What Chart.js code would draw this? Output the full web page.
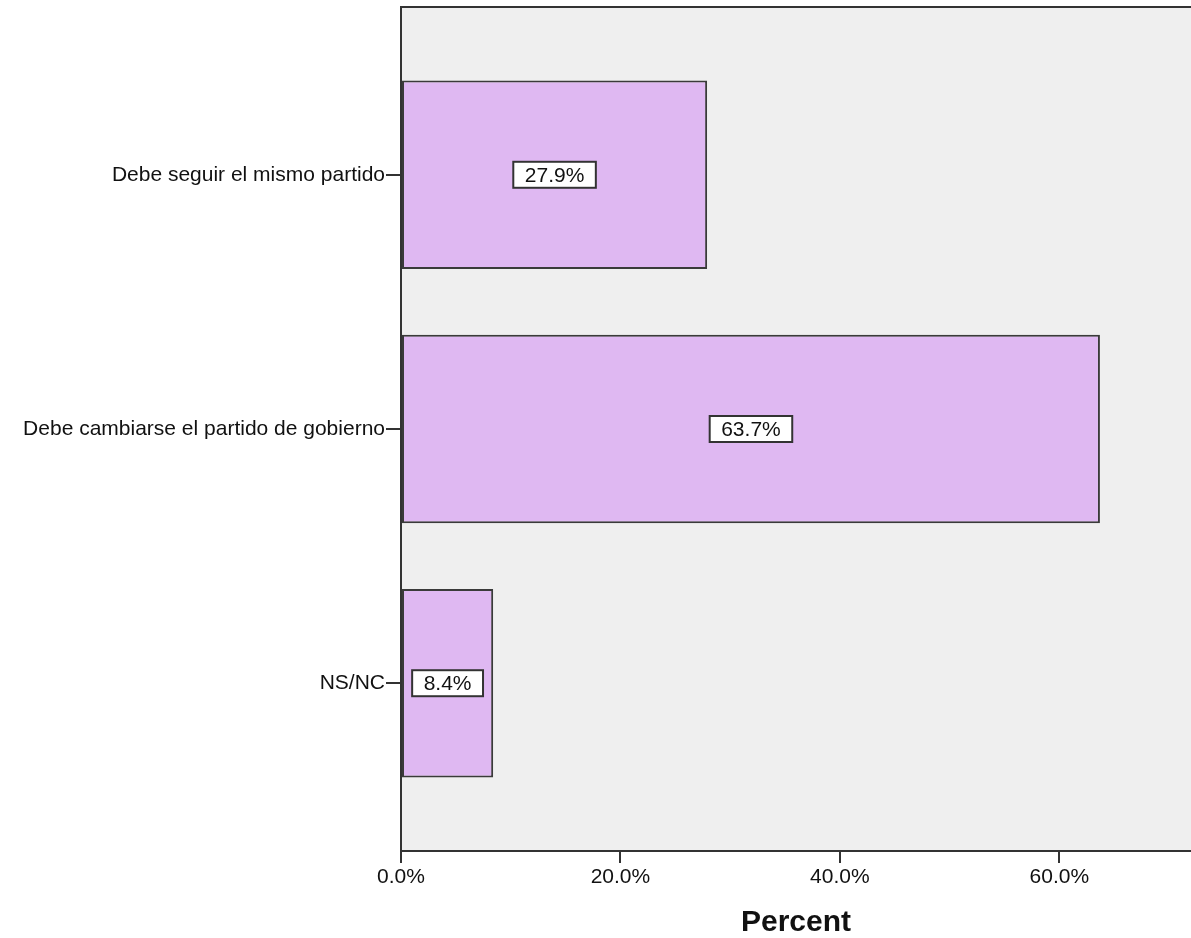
<!DOCTYPE html>
<html>
<head>
<meta charset="utf-8">
<script src="https://cdn.jsdelivr.net/npm/chart.js@4"></script>
<style>body{margin:0;background:#fff}</style>
</head>
<body>
<canvas id="barra_partido_gobierno" width="1191" height="938"></canvas>
<script>
/* Gráfico de barras horizontales: ¿debe seguir el mismo partido? (porcentaje) */

const categorias = [
    'Debe seguir el mismo partido',
    'Debe cambiarse el partido de gobierno',
    'NS/NC',
];

const porcentajes = [27.9, 63.7, 8.4];

const ticks_x = [0, 20, 40, 60];

const titulo_x = 'Percent';

Chart.defaults.font.family = "'Liberation Sans', Arial, sans-serif";
Chart.defaults.color = '#111';

// fondo gris del área de trazado y línea superior
const fondo_area = {
    id: 'fondo_area',
    beforeDraw(chart) {
        const {ctx, chartArea: a} = chart;
        ctx.save();
        ctx.fillStyle = '#efefef';
        ctx.fillRect(a.left, a.top, a.right - a.left, a.bottom - a.top);
        ctx.strokeStyle = '#333';
        ctx.lineWidth = 2;
        ctx.beginPath();
        ctx.moveTo(a.left, a.top);
        ctx.lineTo(a.right, a.top);
        ctx.stroke();
        ctx.restore();
    }
};

// etiquetas con el valor en caja blanca
const etiquetas_valor = {
    id: 'etiquetas_valor',
    afterDatasetsDraw(chart) {
        const ctx = chart.ctx;
        const meta = chart.getDatasetMeta(0);
        ctx.save();
        ctx.font = "21px 'Liberation Sans', Arial, sans-serif";
        ctx.textAlign = 'center';
        ctx.textBaseline = 'middle';
        meta.data.forEach((barra, i) => {
            const texto = porcentajes[i].toFixed(1) + '%';
            const cx = (barra.x + barra.base) / 2;
            const cy = barra.y;
            const w = ctx.measureText(texto).width + 23;
            const h = 26;
            ctx.fillStyle = '#fff';
            ctx.fillRect(cx - w / 2, cy - h / 2, w, h);
            ctx.strokeStyle = '#333';
            ctx.lineWidth = 2;
            ctx.strokeRect(cx - w / 2, cy - h / 2, w, h);
            ctx.fillStyle = '#111';
            ctx.fillText(texto, cx, cy + 1);
        });
        ctx.restore();
    }
};

const data_partido = {
    datasets: [{
        data: porcentajes.map((v, i) => ({x: v, y: i})),
        backgroundColor: '#dfb8f2',
        borderColor: '#3a3a3a',
        borderWidth: 2,
        borderSkipped: false,
        categoryPercentage: 1,
        barPercentage: 0.742,
    }]
};

const config_partido = {
    type: 'bar',
    data: data_partido,
    plugins: [fondo_area, etiquetas_valor],
    options: {
        indexAxis: 'y',
        responsive: false,
        animation: false,
        devicePixelRatio: 1,
        layout: {padding: {top: 7, left: 0, right: 0, bottom: 0}},
        plugins: {legend: {display: false}, tooltip: {enabled: false}},
        scales: {
            x: {
                type: 'linear',
                min: 0,
                max: 72,
                afterBuildTicks(scale) {
                    scale.ticks = ticks_x.map(v => ({value: v}));
                },
                afterFit(scale) { scale.height = 87; },
                grid: {drawOnChartArea: false, drawTicks: true, tickLength: 12, color: '#333', lineWidth: 2},
                border: {color: '#333', width: 2},
                ticks: {
                    padding: 2,
                    font: {size: 21},
                    color: '#111',
                    callback: v => v.toFixed(1) + '%',
                },
                title: {
                    display: true,
                    text: titulo_x,
                    font: {size: 30, weight: 'bold', lineHeight: 1},
                    color: '#111',
                    padding: {top: 0, bottom: 0},
                },
            },
            y: {
                type: 'linear',
                reverse: true,
                offset: false,
                min: -0.66,
                max: 2.66,
                afterBuildTicks(scale) {
                    scale.ticks = categorias.map((c, i) => ({value: i}));
                },
                afterFit(scale) {
                    scale.width = 401;
                    scale.paddingTop = 0;
                    scale.paddingBottom = 0;
                },
                grid: {offset: false, drawOnChartArea: false, drawTicks: true, tickLength: 15, color: '#333', lineWidth: 2},
                border: {color: '#333', width: 2},
                ticks: {
                    padding: 1,
                    font: {size: 21},
                    color: '#111',
                    callback: v => categorias[v],
                },
            },
        },
    }
};

const grafico_partido = new Chart(
    document.getElementById('barra_partido_gobierno'),
    config_partido
);
</script>
</body>
</html>
